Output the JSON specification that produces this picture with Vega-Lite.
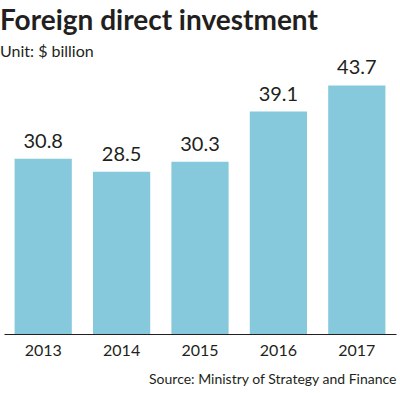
{
  "$schema": "https://vega.github.io/schema/vega-lite/v6.json",
  "width": 392,
  "height": 256,
  "autosize": "none",
  "padding": {"left": 4, "right": 4, "top": 78, "bottom": 59},
  "background": "white",
  "title": {
    "text": "Foreign direct investment",
    "subtitle": "Unit: $ billion",
    "anchor": "start",
    "frame": "group",
    "dx": -4,
    "offset": -2,
    "font": "Lato",
    "fontSize": 28,
    "fontWeight": "bold",
    "color": "#231f20",
    "subtitleFont": "Lato",
    "subtitleFontSize": 16,
    "subtitleColor": "#231f20",
    "subtitlePadding": 8
  },
  "data": {
    "values": [
      {"year": "2013", "value": 30.8},
      {"year": "2014", "value": 28.5},
      {"year": "2015", "value": 30.3},
      {"year": "2016", "value": 39.1},
      {"year": "2017", "value": 43.7}
    ]
  },
  "encoding": {
    "x": {
      "field": "year",
      "type": "ordinal",
      "scale": {"paddingInner": 0.27, "paddingOuter": 0.135},
      "axis": {
        "title": "Source: Ministry of Strategy and Finance",
        "titleAnchor": "end",
        "titleAlign": "right",
        "titleFont": "Lato",
        "titleFontSize": 14,
        "titleFontWeight": "normal",
        "titleColor": "#231f20",
        "titlePadding": 14,
        "labelAngle": 0,
        "labelFont": "Lato",
        "labelFontSize": 16,
        "labelColor": "#231f20",
        "labelPadding": 8,
        "ticks": false,
        "domainColor": "#231f20",
        "domainWidth": 1
      }
    },
    "y": {
      "field": "value",
      "type": "quantitative",
      "scale": {"domain": [0, 45], "nice": false},
      "axis": null
    }
  },
  "layer": [
    {"mark": {"type": "bar", "color": "#87c9dc"}},
    {
      "mark": {"type": "text", "baseline": "bottom", "dy": -7, "font": "Lato", "fontSize": 20, "color": "#231f20"},
      "encoding": {"text": {"field": "value", "type": "quantitative", "format": ".1f"}}
    }
  ],
  "config": {"view": {"stroke": null}}
}
